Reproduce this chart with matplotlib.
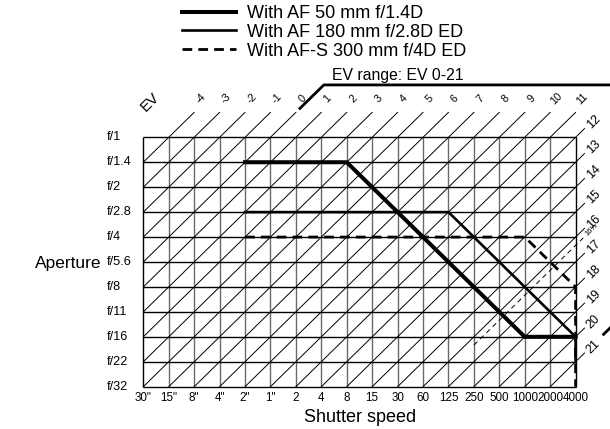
import matplotlib
matplotlib.use('Agg')
import matplotlib.pyplot as plt

plt.rcParams['font.family'] = ['Liberation Sans', 'DejaVu Sans']

# ---------------- data ----------------
shutter_labels = ['30"', '15"', '8"', '4"', '2"', '1"', '2', '4', '8', '15',
                  '30', '60', '125', '250', '500', '1000', '2000', '4000']
aperture_labels = ['f/1', 'f/1.4', 'f/2', 'f/2.8', 'f/4', 'f/5.6', 'f/8',
                   'f/11', 'f/16', 'f/22', 'f/32']
ev_top_labels = [-4, -3, -2, -1, 0, 1, 2, 3, 4, 5, 6, 7, 8, 9, 10, 11]
ev_right_labels = [12, 13, 14, 15, 16, 17, 18, 19, 20, 21]

lens_names = ['With AF 50 mm f/1.4D', 'With AF 180 mm f/2.8D ED',
              'With AF-S 300 mm f/4D ED']
af50_shutter = ['2"', '8', '1000', '4000']
af50_aperture = ['f/1.4', 'f/1.4', 'f/16', 'f/16']
af180_shutter = ['2"', '125', '4000', '4000']
af180_aperture = ['f/2.8', 'f/2.8', 'f/16', 'f/22']
afs300_shutter = ['2"', '1000', '4000', '4000']
afs300_aperture = ['f/4', 'f/4', 'f/8', 'f/32']

ev_range = (0, 21)
ev_extra = 16 + 1/3          # thin dashed EV line
ev_extra_start = '250'       # shutter where it starts
ev_extra_label = '16⅓'

# ---------------- layout ----------------
W, H = 610, 429
x0, dx = 143.3, 25.43
y0, dy = 137.3, 24.94
fig = plt.figure(figsize=(W / 100, H / 100), dpi=100)
ax = fig.add_axes([0, 0, 1, 1])
ax.set_xlim(-x0 / dx, (W - x0) / dx)
ax.set_ylim((H - y0) / dy, -y0 / dy)
ax.axis('off')

nc = len(shutter_labels) - 1   # 17
nr = len(aperture_labels) - 1  # 10
ev_off = shutter_labels.index('1"')  # EV = c + r - ev_off

# grid
ax.hlines(range(nr + 1), 0, nc, color='black', lw=1.0, zorder=2)
ax.vlines(range(1, nc), 0, nr, color='#6a6a6a', lw=1.0, zorder=1)
ax.vlines([0, nc], 0, nr, color='black', lw=1.0, zorder=2)

# diagonals (iso-EV lines)
for e in ev_top_labels + ev_right_labels:
    s = e + ev_off
    r_in = min(nr, s)
    c_in = s - r_in
    r_out = max(0, s - nc)
    c_out = s - r_out
    if c_out < nc:
        c_end, r_end = c_out + 1, r_out - 1
    else:
        c_end, r_end = c_out + 0.35, r_out - 0.35
    ax.plot([c_in, c_end], [r_in, r_end], color='black', lw=0.7, zorder=1)
    if e in ev_top_labels:
        ax.text(c_end + 0.25, r_end - 0.55, str(e), rotation=45, fontsize=7.8,
                ha='center', va='center')
    else:
        ax.text(nc + 0.7, r_out - 0.6, str(e), rotation=45, fontsize=9,
                ha='center', va='center')

# thin dashed EV line
c_s = shutter_labels.index(ev_extra_start)
s = ev_extra + ev_off
ax.plot([c_s, nc + 0.3], [s - c_s, s - nc - 0.3], color='black', lw=0.7,
        dashes=(5, 4), zorder=3)
ax.text(nc + 0.62, s - nc - 0.62, ev_extra_label, rotation=45, fontsize=5.5,
        ha='center', va='center')

# lens lines
def idx(sh, ap):
    return ([shutter_labels.index(v) for v in sh],
            [aperture_labels.index(v) for v in ap])

cx, ry = idx(afs300_shutter, afs300_aperture)
l300, = ax.plot(cx, ry, color='black', lw=2.0, dashes=(3.5, 2.2),
                solid_capstyle='butt', dash_capstyle='butt', zorder=4)
cx, ry = idx(af180_shutter, af180_aperture)
l180, = ax.plot(cx, ry, color='black', lw=1.9, zorder=5,
                solid_joinstyle='miter')
cx, ry = idx(af50_shutter, af50_aperture)
l50, = ax.plot(cx, ry, color='black', lw=2.9, zorder=6,
               solid_joinstyle='miter')

leg = ax.legend([l50, l180, l300], lens_names, loc='upper left',
                bbox_to_anchor=(182 / W, 1 - 5 / H),
                bbox_transform=fig.transFigure, frameon=False,
                fontsize=13, handlelength=3.0, handletextpad=0.6,
                labelspacing=0.1, borderpad=0, borderaxespad=0)

# EV range bracket
e0, e1 = ev_range
s0, s1 = e0 + ev_off, e1 + ev_off
top_r = -2.1
bx = [6.16, s0 - top_r, 20, 20, 18.1]
by = [s0 - 6.16, top_r, top_r, s1 - 20, s1 - 18.1]
ax.plot(bx, by, color='black', lw=2.0, solid_joinstyle='miter', zorder=3,
        clip_on=False)
ax.text(7.42, -2.3, 'EV range: EV %d-%d' % ev_range, fontsize=11.3,
        ha='left', va='baseline')

ax.text(0.26, -1.42, 'EV', rotation=45, fontsize=11, ha='center', va='center')

# tick labels
for i, lab in enumerate(aperture_labels):
    ax.text(-1.43, i, lab, fontsize=9.2, ha='left', va='center')
for i, lab in enumerate(shutter_labels):
    ax.text(i, 10.47, lab, fontsize=8.4, ha='center', va='center')

ax.text(-4.26, 5.05, 'Aperture', fontsize=12.5, ha='left', va='center')
ax.text(8.52, 11.25, 'Shutter speed', fontsize=13, ha='center', va='center')

fig.savefig('out.png', dpi=100)
